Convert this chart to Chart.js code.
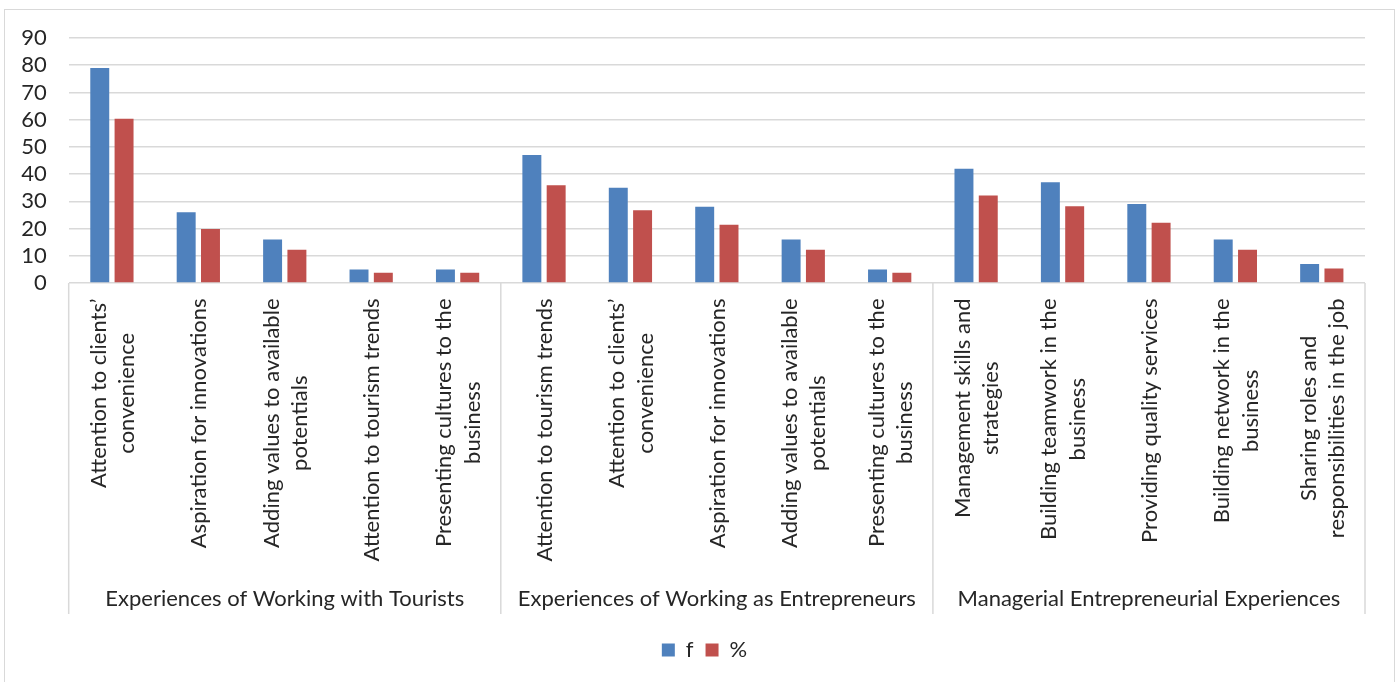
<!DOCTYPE html>
<html>
<head>
<meta charset="utf-8">
<title>Experiences chart</title>
<script src="https://cdn.jsdelivr.net/npm/chart.js@4.4.1/dist/chart.umd.min.js"></script>
<style>
  html, body { margin: 0; padding: 0; background: #fff; overflow: hidden; }
  #wrap { position: absolute; left: 0; top: 0; width: 1397px; height: 682px; }
</style>
</head>
<body>
<div id="wrap"><canvas id="myChart"></canvas></div>
<script>
// category labels, already wrapped into lines
let categories = [
  ["Attention to clients’", "convenience"],
  ["Aspiration for innovations"],
  ["Adding values to available", "potentials"],
  ["Attention to tourism trends"],
  ["Presenting cultures to the", "business"],
  ["Attention to tourism trends"],
  ["Attention to clients’", "convenience"],
  ["Aspiration for innovations"],
  ["Adding values to available", "potentials"],
  ["Presenting cultures to the", "business"],
  ["Management skills and", "strategies"],
  ["Building teamwork in the", "business"],
  ["Providing quality services"],
  ["Building network in the", "business"],
  ["Sharing roles and", "responsibilities in the job"],
];

let groups = [
  "Experiences of Working with Tourists",
  "Experiences of Working as Entrepreneurs",
  "Managerial Entrepreneurial Experiences",
];
let groupSizes = [5, 5, 5];

let fValues = [79, 26, 16, 5, 5, 47, 35, 28, 16, 5, 42, 37, 29, 16, 7];
let pctValues = [60.3, 19.8, 12.2, 3.8, 3.8, 35.9, 26.7, 21.4, 12.2, 3.8, 32.1, 28.2, 22.1, 12.2, 5.3];

let yTicks = [0, 10, 20, 30, 40, 50, 60, 70, 80, 90];

const FONT = "Lato";
const TEXT = "#262626";
const LINE = "#d9d9d9";

// outer frame of the chart
const frame = {
  id: "frame",
  beforeDraw(chart) {
    const ctx = chart.ctx;
    ctx.save();
    ctx.strokeStyle = LINE;
    ctx.lineWidth = 1;
    ctx.strokeRect(4.5, 9.5, 1390, 700);
    ctx.restore();
  },
};

// rotated category labels, group labels and the separators between groups
const groupAxis = {
  id: "groupAxis",
  afterDraw(chart) {
    const ctx = chart.ctx;
    const x = chart.scales.x;
    const top = chart.chartArea.bottom;
    const sepBottom = top + 331;
    const lineH = 28.3;

    ctx.save();
    ctx.font = `22px ${FONT}`;
    ctx.fillStyle = TEXT;
    ctx.textBaseline = "alphabetic";
    ctx.textAlign = "center";

    chart.data.labels.forEach((lines, i) => {
      const cx = x.getPixelForValue(i);
      let boxW = 0;
      lines.forEach((l) => (boxW = Math.max(boxW, ctx.measureText(l).width)));
      lines.forEach((l, k) => {
        const bx = cx + (k - (lines.length - 1) / 2) * lineH + 8;
        ctx.save();
        ctx.translate(bx, top + 15.5);
        ctx.rotate(-Math.PI / 2);
        ctx.fillText(l, -boxW / 2, 0);
        ctx.restore();
      });
    });

    // separators
    ctx.strokeStyle = LINE;
    ctx.lineWidth = 1.5;
    let start = 0;
    let edges = [x.getPixelForValue(-0.5)];
    groupSizes.forEach((n) => {
      start += n;
      edges.push(x.getPixelForValue(start - 0.5));
    });
    edges.forEach((ex) => {
      ctx.beginPath();
      ctx.moveTo(ex, top);
      ctx.lineTo(ex, sepBottom);
      ctx.stroke();
    });

    // group names
    ctx.textBaseline = "middle";
    groups.forEach((g, j) => {
      ctx.fillText(g, (edges[j] + edges[j + 1]) / 2, 599);
    });
    ctx.restore();
  },
};

const ctx = document.getElementById("myChart").getContext("2d");

const myChart = new Chart(ctx, {
  type: "bar",
  data: {
    labels: categories,
    datasets: [
      {
        label: "f",
        data: fValues,
        backgroundColor: "#4f81bd",
        categoryPercentage: 0.5625,
        barPercentage: 0.78,
      },
      {
        label: "%",
        data: pctValues,
        backgroundColor: "#c0504d",
        categoryPercentage: 0.5625,
        barPercentage: 0.78,
      },
    ],
  },
  options: {
    responsive: true,
    maintainAspectRatio: false,
    animation: false,
    layout: {
      padding: { left: 12, right: 0, top: 38, bottom: 11 },
    },
    plugins: {
      tooltip: { enabled: false },
      legend: {
        position: "bottom",
        labels: {
          boxWidth: 13,
          boxHeight: 13,
          padding: 12,
          color: TEXT,
          font: { family: FONT, size: 22 },
        },
      },
    },
    scales: {
      x: {
        grid: { display: false },
        border: { display: false },
        ticks: { display: false },
        afterFit(scale) {
          scale.height = 344;
        },
      },
      y: {
        min: 0,
        max: 90,
        afterBuildTicks(scale) {
          scale.ticks = yTicks.map((v) => ({ value: v }));
        },
        ticks: {
          autoSkip: false,
          padding: 22,
          color: TEXT,
          font: { family: FONT, size: 22 },
        },
        grid: { color: LINE, lineWidth: 1.5, drawTicks: false },
        border: { display: false },
        afterFit(scale) {
          scale.width = 56.7;
        },
      },
      // empty right-hand margin of the plot
      yRight: {
        position: "right",
        grid: { display: false },
        border: { display: false },
        ticks: { display: false },
        afterFit(scale) {
          scale.width = 32;
        },
      },
    },
  },
  plugins: [frame, groupAxis],
});
</script>
</body>
</html>
